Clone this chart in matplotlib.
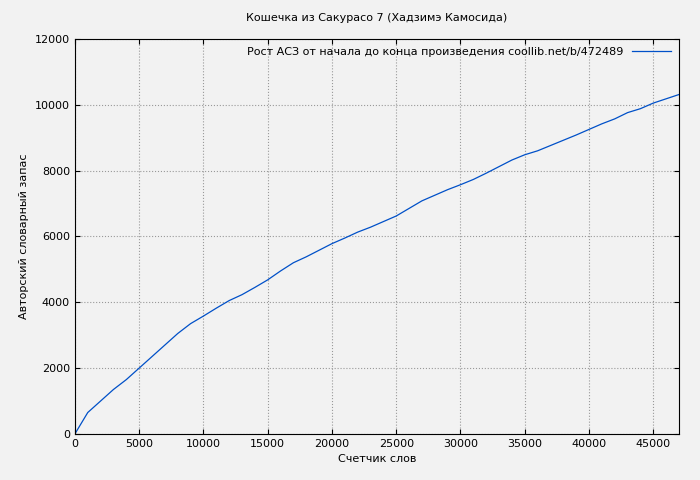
import matplotlib
matplotlib.use("Agg")
import matplotlib.pyplot as plt

words = [0, 1000, 2000, 3000, 4000, 5000, 6000, 7000, 8000, 9000, 10000, 11000, 12000, 13000,
         14000, 15000, 16000, 17000, 18000, 19000, 20000, 21000, 22000, 23000, 24000, 25000,
         26000, 27000, 28000, 29000, 30000, 31000, 32000, 33000, 34000, 35000, 36000, 37000,
         38000, 39000, 40000, 41000, 42000, 43000, 44000, 45000, 46000, 47000]
vocab = [0, 650, 1000, 1350, 1650, 2000, 2350, 2700, 3050, 3350, 3580, 3820, 4050, 4230,
         4450, 4680, 4950, 5200, 5380, 5580, 5780, 5950, 6130, 6280, 6450, 6620,
         6850, 7080, 7250, 7420, 7570, 7730, 7920, 8120, 8320, 8480, 8600, 8760,
         8920, 9080, 9250, 9420, 9570, 9760, 9880, 10050, 10180, 10310]

plt.rcParams['font.family'] = ['DejaVu Sans']
fig = plt.figure(figsize=(7, 4.8), dpi=100, facecolor='#f2f2f2')
ax = fig.add_axes([0.107, 0.096, 0.863, 0.823], facecolor='#f2f2f2')
ax.plot(words, vocab, color='#0050c8', lw=0.9,
        label='Рост АСЗ от начала до конца произведения coollib.net/b/472489')
ax.set_xlim(0, 47000)
ax.set_ylim(0, 12000)
ax.set_xticks(range(0, 47000, 5000))
ax.set_yticks(range(0, 12001, 2000))
ax.grid(True, linestyle=':', color='#999999', lw=0.8)
ax.tick_params(direction='in', labelsize=8, top=True, right=True)
ax.set_xlabel('Счетчик слов', fontsize=8)
ax.set_ylabel('Авторский словарный запас', fontsize=8)
ax.set_title('Кошечка из Сакурасо 7 (Хадзимэ Камосида)', fontsize=8, pad=13)
leg = ax.legend(loc='upper right', fontsize=8, frameon=False, markerfirst=False,
                handlelength=3.5, borderaxespad=0.3)
fig.savefig('out.png', dpi=100, facecolor='#f2f2f2')
